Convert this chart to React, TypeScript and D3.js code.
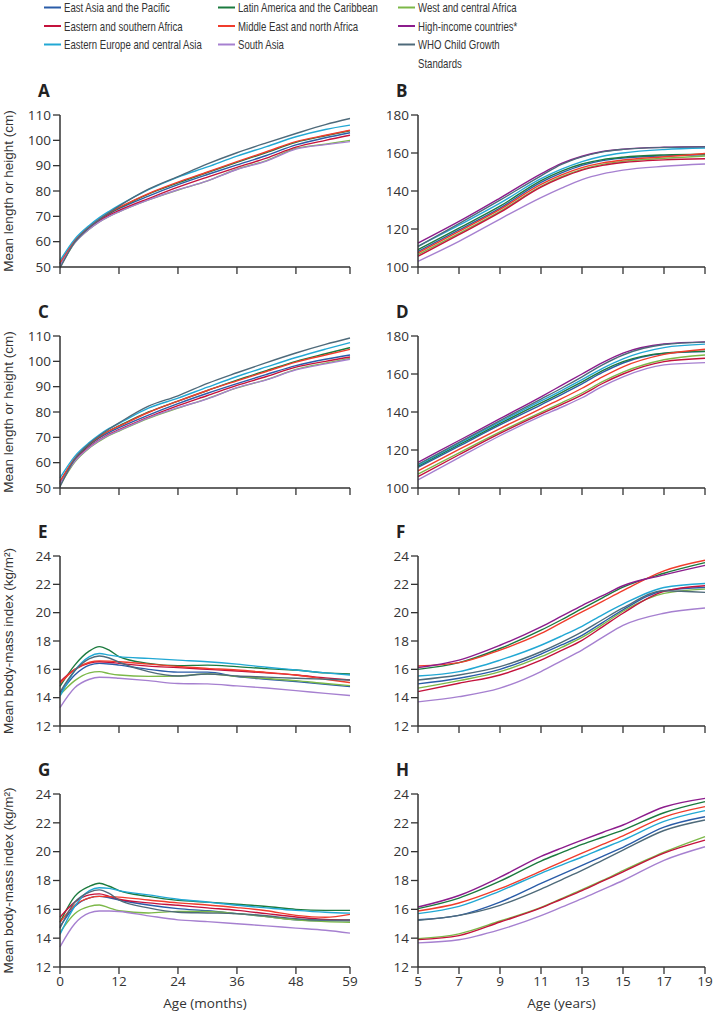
import React from "react";
import * as d3 from "d3";

// ---------- series ----------
const seriesNames = [
  "East Asia and the Pacific",
  "Latin America and the Caribbean",
  "West and central Africa",
  "Eastern and southern Africa",
  "Middle East and north Africa",
  "High-income countries*",
  "Eastern Europe and central Asia",
  "South Asia",
  "WHO Child Growth Standards",
];
const seriesColors = ["#2a5ca8", "#1b7a3e", "#7cb848", "#c4123c", "#f03c2c", "#8c1c8c", "#22a8d4", "#a680d0", "#4e6a7a"];

// series present in the under-5 (months) panels, in this order
const monthSeries = [0, 1, 2, 3, 4, 6, 7, 8];
// series present in the 5-19 years panels, in this order
const yearSeries = [0, 1, 2, 3, 4, 5, 6, 7, 8];

const months = [0, 3, 6, 8, 10, 12, 18, 24, 30, 36, 42, 48, 54, 59];
const years = [5, 7, 9, 11, 12, 13, 14, 15, 17, 19];

const monthTicks = [0, 12, 24, 36, 48, 59];
const yearTicks = [5, 7, 9, 11, 13, 15, 17, 19];
const heightMonthTicks = [50, 60, 70, 80, 90, 100, 110];
const heightYearTicks = [100, 120, 140, 160, 180];
const bmiTicks = [12, 14, 16, 18, 20, 22, 24];

// ---------- A: girls length/height, months (EAP, LAC, WCA, ESA, MENA, ECA, SA, WHO) ----------
const panelA = [
  [51, 60.3, 66, 68.8, 71, 73, 78, 82.5, 86.5, 90.3, 94, 98.2, 101, 103],
  [51, 60, 65.8, 68.8, 71.3, 73.3, 78.8, 83.2, 87.3, 91.3, 95.2, 99.2, 101.8, 103.8],
  [50, 59.5, 65, 67.8, 70, 71.8, 76.5, 80.4, 84, 88.6, 92, 96.8, 98.5, 100],
  [51.5, 60, 65.5, 68.3, 70.5, 72.3, 77, 81.5, 85.5, 89.3, 93, 97.3, 100, 102],
  [51.5, 60.5, 66, 69, 71.5, 73.5, 79, 83.5, 87.5, 91.6, 95.5, 99.5, 102, 104],
  [52.5, 61, 66.5, 69.5, 72, 74.3, 80.5, 85.5, 89.5, 93.8, 97.5, 101.4, 104.3, 106],
  [50.5, 59.5, 65, 67.8, 70, 71.8, 76.5, 80.5, 84, 88.5, 91.8, 96.5, 98.3, 99.5],
  [49.5, 59.8, 65.7, 68.7, 71.5, 74.0, 80.7, 85.7, 90.7, 95.1, 99.0, 102.7, 106.2, 108.6],
];

// ---------- C: boys length/height, months ----------
const panelC = [
  [52, 61.3, 67, 69.8, 72, 73.8, 78.8, 83.3, 87.4, 91.2, 94.8, 98.3, 100.8, 102.5],
  [52.5, 61.5, 67.3, 70.2, 72.6, 74.5, 80, 84.3, 88.5, 92.6, 96.3, 100, 103, 105.4],
  [51, 60.2, 65.8, 68.5, 70.8, 72.5, 77.5, 81.5, 85.3, 89.5, 92.8, 96.8, 99.3, 101.2],
  [51.5, 60.8, 66.3, 69, 71.3, 73, 78, 82.5, 86.5, 90.5, 94, 97.7, 100, 101.7],
  [52.5, 61.8, 67.5, 70.3, 72.6, 74.4, 79.8, 84.3, 88.5, 92.3, 96, 99.7, 102.5, 104.7],
  [54, 62.5, 68, 71, 73.5, 75.5, 81.5, 85.5, 89.8, 94, 97.8, 101.5, 104.8, 107.4],
  [51.5, 60.5, 66, 68.8, 71, 72.7, 77.7, 81.7, 85.2, 89.6, 92.7, 96.6, 99, 100.8],
  [50.5, 61.4, 67.6, 70.6, 73.3, 75.7, 82.3, 86.4, 91.3, 95.5, 99.5, 103.3, 106.7, 109.2],
];

// ---------- E: girls BMI, months ----------
const panelE = [
  [14.3, 15.6, 16.3, 16.42, 16.38, 16.3, 16.0, 15.8, 15.8, 15.49, 15.3, 15.13, 14.95, 14.78],
  [14.8, 16.3, 17.3, 17.6, 17.35, 16.9, 16.42, 16.26, 16.3, 16.19, 16.05, 15.95, 15.75, 15.67],
  [14.2, 15.2, 15.75, 15.84, 15.7, 15.6, 15.5, 15.53, 15.67, 15.5, 15.35, 15.2, 15.0, 14.85],
  [15.13, 16.0, 16.45, 16.54, 16.5, 16.42, 16.23, 16.12, 16.0, 15.88, 15.75, 15.6, 15.4, 15.25],
  [15.0, 16.0, 16.5, 16.6, 16.58, 16.54, 16.37, 16.2, 16.07, 15.95, 15.78, 15.6, 15.3, 15.06],
  [14.1, 15.9, 16.9, 17.12, 17.0, 16.9, 16.77, 16.65, 16.54, 16.37, 16.15, 15.95, 15.75, 15.6],
  [13.3, 14.7, 15.3, 15.44, 15.42, 15.37, 15.2, 15.0, 14.97, 14.83, 14.68, 14.5, 14.3, 14.15],
  [14.4, 15.9, 16.75, 16.94, 16.8, 16.5, 15.84, 15.53, 15.67, 15.53, 15.45, 15.37, 15.3, 15.25],
];

// ---------- G: boys BMI, months ----------
const panelG = [
  [14.8, 16.2, 16.8, 16.9, 16.8, 16.65, 16.3, 16.05, 15.9, 15.7, 15.5, 15.27, 15.2, 15.2],
  [15.1, 16.9, 17.6, 17.81, 17.6, 17.3, 16.9, 16.62, 16.5, 16.35, 16.2, 16.0, 15.93, 15.93],
  [14.4, 15.7, 16.2, 16.3, 16.1, 15.9, 15.75, 15.86, 15.85, 15.7, 15.5, 15.27, 15.15, 15.1],
  [15.45, 16.5, 17.0, 17.07, 16.9, 16.7, 16.45, 16.28, 16.1, 15.93, 15.7, 15.47, 15.3, 15.27],
  [15.1, 16.3, 16.8, 16.9, 16.88, 16.85, 16.65, 16.45, 16.3, 16.12, 15.9, 15.58, 15.45, 15.65],
  [14.25, 16.2, 17.3, 17.5, 17.45, 17.3, 17.0, 16.7, 16.5, 16.28, 16.1, 15.93, 15.8, 15.74],
  [13.4, 15.0, 15.75, 15.88, 15.88, 15.85, 15.55, 15.27, 15.15, 15.0, 14.85, 14.7, 14.55, 14.35],
  [14.7, 16.5, 17.2, 17.35, 17.1, 16.65, 16.1, 15.8, 15.75, 15.7, 15.55, 15.35, 15.25, 15.27],
];

// ---------- B: girls height, years (EAP, LAC, WCA, ESA, MENA, HIC, ECA, SA, WHO) ----------
const panelB = [
  [108.2, 119.5, 131, 144.5, 149.5, 153.5, 156, 157.3, 158.5, 159],
  [109.1, 120.5, 132, 145.5, 150.5, 154.2, 156.5, 157.8, 159, 159.4],
  [106.5, 117.7, 129.3, 142.5, 147.5, 151.4, 154, 155.6, 157.2, 158.4],
  [105.6, 117, 128.7, 142, 147, 151, 153.5, 155, 156.4, 157],
  [107.4, 118.7, 130.3, 143.5, 148.5, 152.3, 154.8, 156.3, 158, 159.7],
  [112.6, 124, 136.3, 149, 154.5, 158.3, 160.8, 162, 163, 163.3],
  [110.9, 122, 133.6, 146.5, 151.5, 155.5, 158.3, 160, 161.8, 162.6],
  [103, 113.5, 125.2, 136.5, 141.5, 146, 149, 151, 153, 154.2],
  [110.8, 122.8, 135.2, 148, 154, 158, 160.6, 161.9, 162.9, 163.2],
];

// ---------- D: boys height, years ----------
const panelD = [
  [110.8, 122, 133.2, 143.8, 149.2, 154.8, 160.8, 165.8, 170.8, 171.8],
  [111.5, 122.8, 134, 144.8, 150.2, 155.8, 161.8, 166.5, 171, 172],
  [107.3, 118.5, 129.5, 139.8, 144.8, 150, 156, 161, 167.5, 170],
  [106, 117.5, 128.7, 139, 143.9, 149, 155, 160, 166.5, 168.3],
  [109, 120.3, 131.3, 141.8, 147, 152.5, 158.5, 163.8, 170.3, 173],
  [113.5, 125, 136.5, 148, 154, 160, 166, 171, 175.8, 176.9],
  [112, 123.5, 134.8, 145.8, 151.3, 157, 163, 168, 173.9, 175.7],
  [104.3, 116, 127.5, 137.8, 142.5, 147.5, 153.5, 158.5, 164.8, 166],
  [112.5, 124, 135.5, 146.8, 152.5, 158.5, 164.8, 170, 175.5, 176.8],
];

// ---------- F: girls BMI, years ----------
const panelF = [
  [14.97, 15.37, 16.0, 17.08, 17.72, 18.4, 19.3, 20.2, 21.55, 21.78],
  [16.0, 16.47, 17.47, 18.76, 19.5, 20.28, 21.05, 21.8, 22.78, 23.53],
  [14.67, 15.2, 15.84, 16.89, 17.55, 18.25, 19.15, 20.1, 21.36, 21.66],
  [14.43, 15.02, 15.6, 16.65, 17.33, 18.05, 19.0, 19.96, 21.5, 21.9],
  [16.23, 16.47, 17.36, 18.53, 19.3, 20.05, 20.8, 21.55, 22.95, 23.7],
  [16.12, 16.65, 17.7, 19.0, 19.75, 20.5, 21.2, 21.9, 22.67, 23.34],
  [15.53, 15.84, 16.65, 17.7, 18.35, 19.04, 19.85, 20.6, 21.78, 22.06],
  [13.7, 14.07, 14.67, 15.84, 16.6, 17.36, 18.25, 19.1, 19.96, 20.33],
  [15.25, 15.6, 16.19, 17.24, 17.9, 18.64, 19.5, 20.33, 21.55, 21.43],
];

// ---------- H: boys BMI, years ----------
const panelH = [
  [15.28, 15.58, 16.5, 17.8, 18.43, 19.05, 19.68, 20.3, 21.7, 22.42],
  [16.05, 16.78, 17.95, 19.35, 19.93, 20.5, 21.0, 21.5, 22.7, 23.47],
  [13.97, 14.3, 15.19, 16.13, 16.75, 17.36, 18.0, 18.68, 19.96, 21.04],
  [13.9, 14.18, 15.12, 16.1, 16.7, 17.3, 17.95, 18.6, 19.9, 20.8],
  [15.88, 16.44, 17.43, 18.65, 19.28, 19.9, 20.5, 21.1, 22.4, 23.12],
  [16.16, 16.96, 18.23, 19.67, 20.25, 20.8, 21.33, 21.85, 23.1, 23.7],
  [15.7, 16.2, 17.27, 18.5, 19.07, 19.63, 20.22, 20.8, 22.1, 22.85],
  [13.67, 13.89, 14.59, 15.56, 16.15, 16.74, 17.37, 18.0, 19.4, 20.34],
  [15.24, 15.58, 16.28, 17.4, 18.05, 18.7, 19.4, 20.1, 21.47, 22.2],
];

// ---------- layout (styles / positions) ----------
const FONT = "'Open Sans', 'DejaVu Sans', sans-serif";
const TITLE_FONT = "'Liberation Sans', Arial, sans-serif";
const LEGEND_FONT = "'Liberation Sans', Arial, sans-serif";
const LEGEND_SCALE_X = 0.74;
const TEXT = "#333";
const AXIS = "#333";
const W = 714;
const H = 1015;
const leftX: [number, number] = [60, 350];
const rightX: [number, number] = [418, 705];
const rowsY: [number, number][] = [
  [267, 115],
  [488, 336],
  [726, 556],
  [967, 794],
];
const legendCols = [44, 218, 398];
const legendRowsBaseline = [12, 30.5, 49, 67.5];

type PanelProps = {
  label: string;
  data: number[][];
  seriesIdx: number[];
  xs: number[];
  xDomain: [number, number];
  xRange: [number, number];
  xTicks: number[];
  yDomain: [number, number];
  yRange: [number, number];
  yTicks: number[];
  showXLabels: boolean;
  xTitle?: string;
  yTitle?: string;
};

function Panel(p: PanelProps) {
  const x = d3.scaleLinear().domain(p.xDomain).range(p.xRange);
  const y = d3.scaleLinear().domain(p.yDomain).range(p.yRange);
  const line = d3
    .line<number>()
    .x((_, i) => x(p.xs[i]))
    .y((d) => y(d))
    .curve(d3.curveMonotoneX);
  const x0 = p.xRange[0];
  const yb = p.yRange[0];
  const yt = p.yRange[1];
  return (
    <g>
      <text x={x0 - 22} y={yt - 18} fontFamily={FONT} fontWeight={700} fontSize={17} fill="#222">
        {p.label}
      </text>
      {p.data.map((vals, k) => (
        <path
          key={k}
          d={line(vals) || ""}
          fill="none"
          stroke={seriesColors[p.seriesIdx[k]]}
          strokeWidth={1.4}
        />
      ))}
      {/* y axis */}
      <line x1={x0} x2={x0} y1={yb} y2={yt} stroke={AXIS} strokeWidth={1.5} />
      {p.yTicks.map((t) => (
        <g key={"y" + t}>
          <line x1={x0 - 7} x2={x0} y1={y(t)} y2={y(t)} stroke={AXIS} strokeWidth={1.3} />
          <text
            x={x0 - 9}
            y={y(t)}
            dy="0.35em"
            textAnchor="end"
            fontFamily={FONT}
            fontSize={13.5}
            fill={TEXT}
          >
            {t}
          </text>
        </g>
      ))}
      {/* x axis */}
      <line x1={x0} x2={p.xRange[1]} y1={yb} y2={yb} stroke={AXIS} strokeWidth={1.5} />
      {p.xTicks.map((t) => (
        <g key={"x" + t}>
          <line x1={x(t)} x2={x(t)} y1={yb} y2={yb + 7} stroke={AXIS} strokeWidth={1.3} />
          {p.showXLabels && (
            <text x={x(t)} y={yb + 19} textAnchor="middle" fontFamily={FONT} fontSize={13.5} fill={TEXT}>
              {t}
            </text>
          )}
        </g>
      ))}
      {p.xTitle && (
        <text
          x={(p.xRange[0] + p.xRange[1]) / 2}
          y={yb + 41}
          textAnchor="middle"
          fontFamily={FONT}
          fontSize={13.5}
          fill={TEXT}
        >
          {p.xTitle}
        </text>
      )}
      {p.yTitle && (
        <text
          transform={`translate(12.5,${(yb + yt) / 2}) rotate(-90)`}
          textAnchor="middle"
          fontFamily={TITLE_FONT}
          fontSize={13.5}
          fill={TEXT}
        >
          {p.yTitle}
        </text>
      )}
    </g>
  );
}

function Legend() {
  // 3 columns, reading order by rows
  const items = seriesNames.map((name, i) => ({ name, i, col: i % 3, row: Math.floor(i / 3) }));
  return (
    <g>
      {items.map((it) => {
        const lx = legendCols[it.col];
        const by = legendRowsBaseline[it.row];
        const isWho = it.i === 8;
        const lines = isWho ? ["WHO Child Growth", "Standards"] : [it.name];
        return (
          <g key={it.i}>
            <line x1={lx} x2={lx + 17} y1={by - 4.5} y2={by - 4.5} stroke={seriesColors[it.i]} strokeWidth={2} />
            {lines.map((txt, j) => (
              <g key={j} transform={`translate(${lx + 20},${legendRowsBaseline[it.row + j]}) scale(${LEGEND_SCALE_X},1)`}>
                <text x={0} y={0} fontFamily={LEGEND_FONT} fontSize={13} fill={TEXT}>
                  {txt}
                </text>
              </g>
            ))}
          </g>
        );
      })}
    </g>
  );
}

export default function App() {
  const common = {
    showXLabels: false,
  };
  return (
    <svg
      width={W}
      height={H}
      style={{ position: "absolute", left: 0, top: 0, background: "#fff" }}
    >
      <Legend />
      <Panel
        {...common}
        label="A"
        data={panelA}
        seriesIdx={monthSeries}
        xs={months}
        xDomain={[0, 59]}
        xRange={leftX}
        xTicks={monthTicks}
        yDomain={[50, 110]}
        yRange={rowsY[0]}
        yTicks={heightMonthTicks}
        yTitle="Mean length or height (cm)"
      />
      <Panel
        {...common}
        label="B"
        data={panelB}
        seriesIdx={yearSeries}
        xs={years}
        xDomain={[5, 19]}
        xRange={rightX}
        xTicks={yearTicks}
        yDomain={[100, 180]}
        yRange={rowsY[0]}
        yTicks={heightYearTicks}
      />
      <Panel
        {...common}
        label="C"
        data={panelC}
        seriesIdx={monthSeries}
        xs={months}
        xDomain={[0, 59]}
        xRange={leftX}
        xTicks={monthTicks}
        yDomain={[50, 110]}
        yRange={rowsY[1]}
        yTicks={heightMonthTicks}
        yTitle="Mean length or height (cm)"
      />
      <Panel
        {...common}
        label="D"
        data={panelD}
        seriesIdx={yearSeries}
        xs={years}
        xDomain={[5, 19]}
        xRange={rightX}
        xTicks={yearTicks}
        yDomain={[100, 180]}
        yRange={rowsY[1]}
        yTicks={heightYearTicks}
      />
      <Panel
        {...common}
        label="E"
        data={panelE}
        seriesIdx={monthSeries}
        xs={months}
        xDomain={[0, 59]}
        xRange={leftX}
        xTicks={monthTicks}
        yDomain={[12, 24]}
        yRange={rowsY[2]}
        yTicks={bmiTicks}
        yTitle="Mean body-mass index (kg/m²)"
      />
      <Panel
        {...common}
        label="F"
        data={panelF}
        seriesIdx={yearSeries}
        xs={years}
        xDomain={[5, 19]}
        xRange={rightX}
        xTicks={yearTicks}
        yDomain={[12, 24]}
        yRange={rowsY[2]}
        yTicks={bmiTicks}
      />
      <Panel
        label="G"
        data={panelG}
        seriesIdx={monthSeries}
        xs={months}
        xDomain={[0, 59]}
        xRange={leftX}
        xTicks={monthTicks}
        yDomain={[12, 24]}
        yRange={rowsY[3]}
        yTicks={bmiTicks}
        showXLabels={true}
        xTitle="Age (months)"
        yTitle="Mean body-mass index (kg/m²)"
      />
      <Panel
        label="H"
        data={panelH}
        seriesIdx={yearSeries}
        xs={years}
        xDomain={[5, 19]}
        xRange={rightX}
        xTicks={yearTicks}
        yDomain={[12, 24]}
        yRange={rowsY[3]}
        yTicks={bmiTicks}
        showXLabels={true}
        xTitle="Age (years)"
      />
    </svg>
  );
}
